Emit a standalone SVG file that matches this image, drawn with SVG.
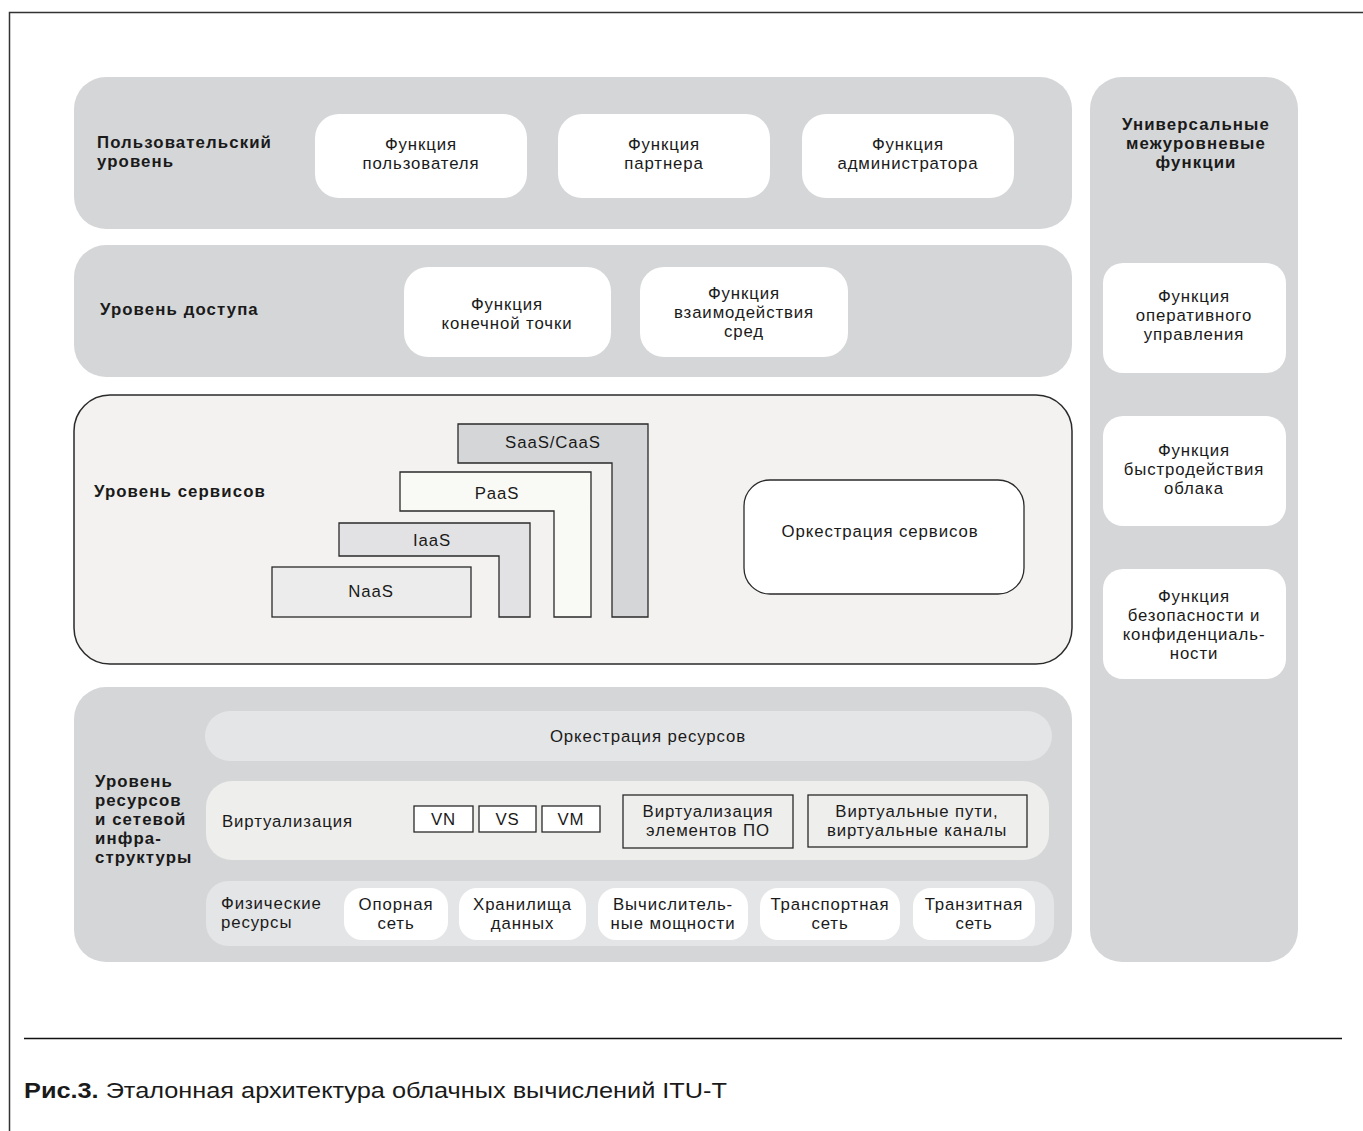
<svg xmlns="http://www.w3.org/2000/svg" width="1363" height="1131" viewBox="0 0 1363 1131">
<style>
text{font-family:"Liberation Sans","Noto Sans",sans-serif;fill:#1a1a1a}
.t{font-size:16.8px;letter-spacing:0.9px;text-anchor:middle}
.tl{font-size:16.8px;letter-spacing:0.9px}
.b{font-size:16.8px;font-weight:bold;letter-spacing:1.1px}
.bc{font-size:16.8px;font-weight:bold;letter-spacing:1.1px;text-anchor:middle}
.lvl{fill:#d5d6d8}
.wb{fill:#ffffff}
.sq{stroke:#2a2a2a;stroke-width:1.3}
</style>
<rect width="1363" height="1131" fill="#ffffff"/>
<g id="frame" fill="none" stroke="#333" stroke-width="1.5">
<path d="M9.5 1131 V12.5 H1363"/>
<line x1="24" y1="1038.5" x2="1342" y2="1038.5" stroke="#111"/>
</g>
<g id="user-level">
<rect class="lvl" x="74" y="77" width="998" height="152" rx="32"/>
<text class="b" x="97" y="148">Пользовательский</text>
<text class="b" x="97" y="167">уровень</text>
<rect class="wb" x="315" y="114" width="212" height="84" rx="24"/>
<text class="t" x="421" y="150">Функция</text><text class="t" x="421" y="169">пользователя</text>
<rect class="wb" x="558" y="114" width="212" height="84" rx="24"/>
<text class="t" x="664" y="150">Функция</text><text class="t" x="664" y="169">партнера</text>
<rect class="wb" x="802" y="114" width="212" height="84" rx="24"/>
<text class="t" x="908" y="150">Функция</text><text class="t" x="908" y="169">администратора</text>
</g>
<g id="access-level">
<rect class="lvl" x="74" y="245" width="998" height="132" rx="32"/>
<text class="b" x="100" y="315">Уровень доступа</text>
<rect class="wb" x="404" y="267" width="207" height="90" rx="24"/>
<text class="t" x="507" y="310">Функция</text><text class="t" x="507" y="329">конечной точки</text>
<rect class="wb" x="640" y="267" width="208" height="90" rx="24"/>
<text class="t" x="744" y="299">Функция</text><text class="t" x="744" y="318">взаимодействия</text><text class="t" x="744" y="337">сред</text>
</g>
<g id="service-level">
<rect x="74" y="395" width="998" height="269" rx="36" fill="#f3f2f0" stroke="#2a2a2a" stroke-width="1.5"/>
<text class="b" x="94" y="497">Уровень сервисов</text>
<path class="sq" d="M458 424 H648 V617 H612 V463 H458 Z" fill="#d5d6d8"/>
<text class="t" x="553" y="448">SaaS/CaaS</text>
<path class="sq" d="M400 472 H591 V617 H554 V511 H400 Z" fill="#f9f9f6"/>
<text class="t" x="497" y="499">PaaS</text>
<path class="sq" d="M339 523 H530 V617 H499 V556 H339 Z" fill="#e2e2e4"/>
<text class="t" x="432" y="546">IaaS</text>
<rect class="sq" x="272" y="567" width="199" height="50" fill="#ececec"/>
<text class="t" x="371" y="597">NaaS</text>
<rect x="744" y="480" width="280" height="114" rx="26" fill="#ffffff" stroke="#2a2a2a" stroke-width="1.3"/>
<text class="t" x="880" y="537">Оркестрация сервисов</text>
</g>
<g id="resource-level">
<rect class="lvl" x="74" y="687" width="998" height="275" rx="32"/>
<text class="b" x="95" y="787">Уровень</text>
<text class="b" x="95" y="806">ресурсов</text>
<text class="b" x="95" y="825">и сетевой</text>
<text class="b" x="95" y="844">инфра-</text>
<text class="b" x="95" y="863">структуры</text>
<rect x="205" y="711" width="847" height="50" rx="25" fill="#e4e5e6"/>
<text class="t" x="648" y="742">Оркестрация ресурсов</text>
<rect x="206" y="781" width="843" height="79" rx="26" fill="#eeeeec"/>
<text class="tl" x="222" y="827">Виртуализация</text>
<rect class="sq" x="414" y="806" width="59" height="26" fill="#fff"/>
<text class="t" x="443.5" y="825">VN</text>
<rect class="sq" x="479" y="806" width="57" height="26" fill="#fff"/>
<text class="t" x="507.5" y="825">VS</text>
<rect class="sq" x="542" y="806" width="58" height="26" fill="#fff"/>
<text class="t" x="571" y="825">VM</text>
<rect class="sq" x="623" y="795" width="170" height="53" fill="#eeeeec"/>
<text class="t" x="708" y="817">Виртуализация</text><text class="t" x="708" y="836">элементов ПО</text>
<rect class="sq" x="808" y="795" width="219" height="52" fill="#eeeeec"/>
<text class="t" x="917" y="817">Виртуальные пути,</text><text class="t" x="917" y="836">виртуальные каналы</text>
<rect x="206" y="881" width="848" height="65" rx="22" fill="#e4e5e6"/>
<text class="tl" x="221" y="909">Физические</text><text class="tl" x="221" y="928">ресурсы</text>
<rect class="wb" x="344" y="888" width="104" height="52" rx="18"/>
<text class="t" x="396" y="910">Опорная</text><text class="t" x="396" y="929">сеть</text>
<rect class="wb" x="459" y="888" width="127" height="52" rx="18"/>
<text class="t" x="522.5" y="910">Хранилища</text><text class="t" x="522.5" y="929">данных</text>
<rect class="wb" x="598" y="888" width="150" height="52" rx="18"/>
<text class="t" x="673" y="910">Вычислитель-</text><text class="t" x="673" y="929">ные мощности</text>
<rect class="wb" x="760" y="888" width="140" height="52" rx="18"/>
<text class="t" x="830" y="910">Транспортная</text><text class="t" x="830" y="929">сеть</text>
<rect class="wb" x="913" y="888" width="122" height="52" rx="18"/>
<text class="t" x="974" y="910">Транзитная</text><text class="t" x="974" y="929">сеть</text>
</g>
<g id="cross-layer">
<rect class="lvl" x="1090" y="77" width="208" height="885" rx="32"/>
<text class="bc" x="1196" y="130">Универсальные</text>
<text class="bc" x="1196" y="149">межуровневые</text>
<text class="bc" x="1196" y="168">функции</text>
<rect class="wb" x="1103" y="263" width="183" height="110" rx="20"/>
<text class="t" x="1194" y="302">Функция</text><text class="t" x="1194" y="321">оперативного</text><text class="t" x="1194" y="340">управления</text>
<rect class="wb" x="1103" y="416" width="183" height="110" rx="20"/>
<text class="t" x="1194" y="456">Функция</text><text class="t" x="1194" y="475">быстродействия</text><text class="t" x="1194" y="494">облака</text>
<rect class="wb" x="1103" y="569" width="183" height="110" rx="20"/>
<text class="t" x="1194" y="602">Функция</text><text class="t" x="1194" y="621">безопасности и</text><text class="t" x="1194" y="640">конфиденциаль-</text><text class="t" x="1194" y="659">ности</text>
</g>
<g id="caption">
<text x="24" y="1098" style="font-size:22px" textLength="703" lengthAdjust="spacingAndGlyphs"><tspan font-weight="bold">Рис.3.</tspan> Эталонная архитектура облачных вычислений ITU-T</text>
</g>
</svg>
